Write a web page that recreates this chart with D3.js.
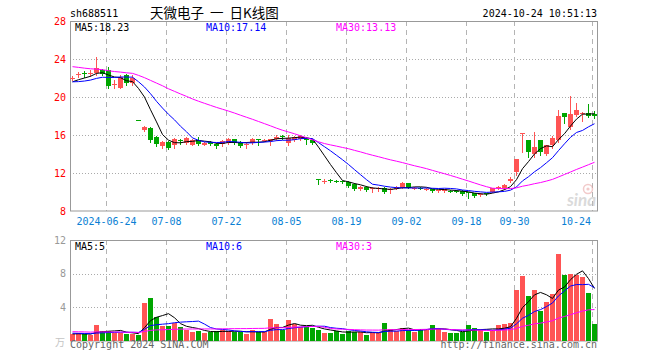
<!DOCTYPE html>
<html><head><meta charset="utf-8">
<script src="https://cdn.jsdelivr.net/npm/d3@7/dist/d3.min.js"></script>
<style>body{margin:0;background:#fff}svg{display:block}</style>
</head><body>
<svg id="c" width="660" height="360"></svg>
<script>
const dates = ["06-14","06-17","06-18","06-19","06-20","06-21","06-24","06-25","06-26","06-27","06-28",
"07-01","07-02","07-03","07-04","07-05","07-08","07-09","07-10","07-11","07-12","07-15","07-16","07-17","07-18","07-19","07-22","07-23","07-24","07-25","07-26","07-29","07-30","07-31",
"08-01","08-02","08-05","08-06","08-07","08-08","08-09","08-12","08-13","08-14","08-15","08-16","08-19","08-20","08-21","08-22","08-23","08-26","08-27","08-28","08-29","08-30",
"09-02","09-03","09-04","09-05","09-06","09-09","09-10","09-11","09-12","09-13","09-18","09-19","09-20","09-23","09-24","09-25","09-26","09-27","09-30",
"10-08","10-09","10-10","10-11","10-14","10-15","10-16","10-17","10-18","10-21","10-22","10-23","10-24"];
const opens = [21.95,22.35,22.55,22.45,22.56,22.8,22.84,21.3,20.95,22.3,21.45,
17.57,16.53,16.7,15.82,14.85,15.3,14.95,15.45,15.2,14.95,15.47,14.95,15.3,15.1,15.05,15.2,15.55,15.26,14.98,15.12,15.58,15.43,15.4,
15.58,15.9,15.19,15.47,15.6,15.7,15.47,11.36,11.15,11.3,11.2,11.16,11.09,10.81,10.32,10.56,10.35,10.37,10.45,10.18,10.32,10.45,
10.92,10.37,10.42,10.3,10.32,10.15,10.12,10.15,10.15,10.15,9.95,9.86,9.7,9.85,10.03,10.45,10.39,11.19,12.14,
16.15,15.47,13.96,15.47,14.0,14.95,15.47,18.28,16.87,18.1,18.25,18.35,18.25];
const highs = [22.25,22.6,22.75,22.8,24.18,22.95,23.2,21.8,22.3,22.4,22.3,
17.57,17.0,16.8,15.9,15.35,15.4,15.65,15.6,15.75,15.6,15.75,15.3,15.35,15.15,15.45,15.65,15.6,15.35,15.3,15.65,15.6,15.6,15.62,
16.0,16.0,16.0,15.85,15.95,15.8,15.5,11.36,11.34,11.4,11.3,11.2,11.15,10.9,10.6,10.6,10.56,10.56,10.5,10.4,10.6,11.03,
10.95,10.5,10.5,10.45,10.35,10.25,10.35,10.2,10.2,10.2,10.0,9.9,9.85,9.9,10.45,10.6,10.8,11.6,13.5,
16.16,15.5,16.35,15.5,15.0,15.9,18.63,18.3,20.1,19.4,18.4,19.3,18.5];
const lows = [21.8,22.1,22.15,22.2,22.3,22.3,21.0,21.0,20.9,21.3,21.3,
17.56,16.4,15.3,14.8,14.6,14.5,14.6,15.1,15.1,14.9,15.0,14.9,14.9,14.6,14.8,15.1,15.1,14.75,14.6,15.05,14.95,15.35,14.9,
15.5,15.55,14.95,15.4,15.5,15.1,15.1,10.84,11.0,11.1,11.05,11.0,10.55,10.25,10.25,10.15,10.04,10.1,9.9,9.9,10.3,10.4,
10.4,10.3,10.3,10.2,9.97,10.05,10.05,10.0,10.0,9.7,9.4,9.5,9.6,9.7,9.95,10.35,10.35,11.1,11.8,
14.24,13.72,13.72,13.9,13.9,14.6,15.3,17.23,16.6,18.0,17.45,17.9,17.8];
const closes = [22.05,22.4,22.4,22.5,23.08,22.4,21.16,21.4,22.14,21.45,21.95,
17.56,16.87,15.47,15.05,15.3,14.6,15.55,15.4,15.65,15.47,15.05,15.19,15.05,14.85,15.4,15.58,15.2,14.84,15.03,15.58,15.52,15.5,15.58,
15.82,15.8,15.65,15.76,15.87,15.45,15.2,11.34,11.2,11.25,11.15,11.1,10.66,10.32,10.56,10.21,10.39,10.4,10.03,10.35,10.56,10.92,
10.45,10.4,10.38,10.33,10.11,10.17,10.3,10.1,10.08,9.8,9.85,9.58,9.8,9.8,10.39,10.5,10.74,11.4,13.47,
16.16,14.24,14.77,14.17,14.95,15.7,18.0,17.87,18.2,18.6,18.3,18.05,18.05];
const volumes = [0.79,0.91,0.8,0.71,1.9,1.19,1.19,1.0,1.0,0.87,0.8,
0.71,4.52,5.16,2.9,1.83,1.83,2.1,1.67,1.31,1.11,1.19,1.0,1.03,1.19,1.31,1.19,1.07,1.03,0.87,1.31,1.11,1.03,2.62,
1.98,1.31,2.5,1.98,1.63,1.71,1.51,1.31,1.0,1.0,1.19,0.87,1.19,1.11,1.03,0.71,1.0,1.0,2.14,1.43,1.23,1.55,
1.31,1.11,1.43,1.39,1.9,1.39,1.11,0.95,0.95,1.11,1.9,1.55,1.27,1.11,1.35,1.9,1.98,2.14,6.07,
7.78,5.36,6.07,3.57,4.68,5.6,10.36,7.86,7.94,7.86,7.66,5.75,2.02];
// closes / volumes of the 29 sessions before the window (for the moving averages)
const priorCloses = [24.6,24.9,24.5,24.3,24.0,24.4,24.1,23.8,23.7,23.7,23.9,24.2,24.0,23.6,23.8,24.1,23.7,23.5,23.4,23.6,22.2,21.8,21.5,21.3,21.2,21.3,21.5,21.6,21.55];
const priorVolumes = [1.3,1.2,1.5,1.1,1.0,1.4,1.2,1.3,1.6,1.1,1.2,1.0,1.3,1.1,1.4,1.0,1.2,1.1,0.9,1.0,1.1,0.9,1.0,1.2,0.9,0.8,0.9,0.8,0.9];
const tickDates = ["06-24","07-08","07-22","08-05","08-19","09-02","09-18","09-30","10-24"];
const tickLabels = ["2024-06-24","07-08","07-22","08-05","08-19","09-02","09-18","09-30","10-24"];
const priceTicks = [28,24,20,16,12,8];
const volTicks = [12,8,4];
const maPeriods = [5,10,30];
const maColors = ["#000000","#0000ff","#ff00ff"];
const priceLegend = ["MA5:18.23","MA10:17.14","MA30:13.13"];
const volLegend = ["MA5:5","MA10:6","MA30:3"];

const RED = "#ff5454", GREEN = "#00a600";
const MONO = "'DejaVu Sans Mono', 'Liberation Mono', monospace";
const svg = d3.select("#c");

const L = 70, R = 597;
const x = d3.scaleBand().domain(dates).range([L, R]).paddingInner(1/6).paddingOuter(0);
const bw = x.bandwidth();
const cx = d => x(d) + bw / 2;
const y = d3.scaleLinear().domain([8, 28]).range([211, 21]);
const yv = d3.scaleLinear().domain([0, 12]).range([341, 240]);

function ma(series, prior, n) {
  const all = prior.concat(series);
  const off = prior.length;
  return series.map((_, i) => {
    const end = off + i;
    if (end - n + 1 < 0) return null;
    return d3.mean(all.slice(end - n + 1, end + 1));
  });
}

// ---- grids
function grids(yScale, ticks, top, bottom) {
  svg.append("g").selectAll("line").data(ticks.filter(t => yScale(t) > top + 1 && yScale(t) < bottom - 1)).join("line")
    .attr("x1", L).attr("x2", R + 1)
    .attr("y1", t => Math.round(yScale(t)) + 0.5).attr("y2", t => Math.round(yScale(t)) + 0.5)
    .attr("stroke", "#aaaaaa").attr("stroke-dasharray", "1,2");
  svg.append("g").selectAll("line").data(tickDates).join("line")
    .attr("x1", d => x(d) + 0.5).attr("x2", d => x(d) + 0.5)
    .attr("y1", top).attr("y2", bottom)
    .attr("stroke", "#b4b4b4").attr("stroke-dasharray", "5,4");
}
grids(y, priceTicks, 21, 211);
grids(yv, [8, 4], 240, 341);

// ---- frames
svg.append("rect").attr("x", L + 0.5).attr("y", 21.5).attr("width", R - L).attr("height", 189.5)
  .attr("fill", "none").attr("stroke", "#999");
svg.append("rect").attr("x", L + 0.5).attr("y", 240.5).attr("width", R - L).attr("height", 100.5)
  .attr("fill", "none").attr("stroke", "#999");

// ---- watermark
const wm = svg.append("g").attr("opacity", 0.55);
wm.append("circle").attr("cx", 588).attr("cy", 189).attr("r", 4.5).attr("fill", "none").attr("stroke", "#e8a0a0").attr("stroke-width", 1.5);
wm.append("circle").attr("cx", 588).attr("cy", 189).attr("r", 1.6).attr("fill", "#e8a0a0");
wm.append("text").attr("x", 596).attr("y", 206).attr("text-anchor", "end")
  .attr("font-family", "Lato, 'DejaVu Sans', sans-serif").attr("font-style", "italic").attr("font-weight", "bold")
  .attr("font-size", 17).attr("fill", "#bdbdbd").text("sina");

// ---- candles
const data = dates.map((d, i) => ({d, o: opens[i], h: highs[i], l: lows[i], c: closes[i], v: volumes[i]}));
const col = k => k.c >= k.o ? RED : GREEN;
const cg = svg.append("g");
cg.selectAll("line").data(data).join("line")
  .attr("x1", k => cx(k.d)).attr("x2", k => cx(k.d))
  .attr("y1", k => Math.round(y(k.h))).attr("y2", k => Math.round(y(k.l)) + 1)
  .attr("stroke", col).attr("stroke-width", 1);
cg.selectAll("rect").data(data).join("rect")
  .attr("x", k => x(k.d)).attr("width", bw)
  .attr("y", k => Math.round(y(Math.max(k.o, k.c))))
  .attr("height", k => Math.max(1, Math.round(y(Math.min(k.o, k.c))) - Math.round(y(Math.max(k.o, k.c)))))
  .attr("fill", col);

// ---- volume bars
svg.append("g").selectAll("rect").data(data).join("rect")
  .attr("x", k => x(k.d)).attr("width", bw)
  .attr("y", k => Math.round(yv(k.v))).attr("height", k => 341 - Math.round(yv(k.v)))
  .attr("fill", col);

// ---- moving averages
function maLines(series, prior, scale) {
  maPeriods.forEach((n, j) => {
    const vals = ma(series, prior, n);
    const line = d3.line().defined(v => v != null).x((v, i) => cx(dates[i])).y(v => scale(v));
    svg.append("path").datum(vals).attr("d", line).attr("fill", "none")
      .attr("stroke", maColors[j]).attr("stroke-width", 1);
  });
}
maLines(closes, priorCloses, y);
maLines(volumes, priorVolumes, yv);

// ---- texts
function txt(xp, yp, s, opts = {}) {
  return svg.append("text").attr("x", xp).attr("y", yp).text(s)
    .attr("font-family", opts.family || MONO).attr("font-size", opts.size || 10)
    .attr("fill", opts.fill || "#000").attr("text-anchor", opts.anchor || "start")
    .attr("dominant-baseline", opts.baseline || "auto")
    .attr("xml:space", "preserve").style("white-space", "pre");
}
txt(70, 17, "sh688511");
txt(150, 18, "天微电子  一  日K线图", {family: "'Noto Sans CJK SC', sans-serif", size: 13.5});
txt(597, 17, "2024-10-24 10:51:13", {anchor: "end"});

const legX = [75, 206, 336];
priceLegend.forEach((s, j) => txt(legX[j], 31, s, {fill: maColors[j]}));
volLegend.forEach((s, j) => txt(legX[j], 250, s, {fill: maColors[j]}));

priceTicks.forEach(t => txt(66, y(t), String(t), {anchor: "end", fill: "#ff0000", baseline: "central"}));
volTicks.forEach(t => txt(66, yv(t), String(t), {anchor: "end", fill: "#999", baseline: "central"}));
txt(65, 341, "万", {anchor: "end", fill: "#c4c4c4", baseline: "central", family: "'Noto Sans CJK SC', sans-serif", size: 10});

tickDates.forEach((d, i) => {
  const last = i === tickDates.length - 1;
  txt(last ? 591 : x(d) + 0.5, 225, tickLabels[i], {anchor: last ? "end" : "middle", fill: "#0a7fd4"});
});

txt(70, 348, "Copyright 2024 SINA.COM", {fill: "#666"});
txt(597, 348, "http://finance.sina.com.cn", {anchor: "end", fill: "#666"});
</script>
</body></html>
